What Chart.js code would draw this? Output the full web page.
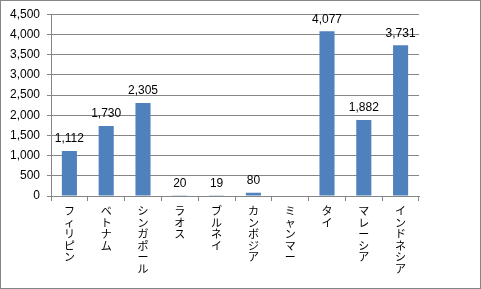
<!DOCTYPE html>
<html><head><meta charset="utf-8">
<script src="https://cdn.jsdelivr.net/npm/chart.js@4/dist/chart.umd.min.js"></script>
<style>html,body{margin:0;padding:0;background:#fff}#w{width:481px;height:289px;position:relative}</style>
</head><body><div id="w"><canvas id="c" width="481" height="289"></canvas></div>
<script>
const categories = ["フィリピン","ベトナム","シンガポール","ラオス","ブルネイ","カンボジア","ミャンマー","タイ","マレーシア","インドネシア"];
const values = [1112, 1730, 2305, 20, 19, 80, null, 4077, 1882, 3731];
const yTicks = [0, 500, 1000, 1500, 2000, 2500, 3000, 3500, 4000, 4500];

const numFont = {family: "'Liberation Sans', Arial, sans-serif", size: 12};
const fmt = v => v.toLocaleString('en-US');

const frame = {
  id: 'frame',
  beforeDraw(c) { const x = c.ctx; x.save(); x.fillStyle = '#fff'; x.fillRect(0,0,c.width,c.height); x.restore(); },
  afterDraw(c) { const x = c.ctx; x.save(); x.strokeStyle = '#868686'; x.lineWidth = 1; x.strokeRect(0.5,0.5,c.width-1,c.height-1); x.restore(); }
};
const dataLabels = {
  id: 'dataLabels',
  afterDatasetsDraw(c) {
    const x = c.ctx; const meta = c.getDatasetMeta(0);
    x.save(); x.fillStyle = '#000'; x.font = numFont.size + 'px ' + numFont.family;
    x.textAlign = 'center'; x.textBaseline = 'bottom';
    meta.data.forEach((bar, i) => {
      const v = c.data.datasets[0].data[i];
      if (v === null || v === undefined) return;
      x.fillText(fmt(v), bar.x, bar.y - 6);
    });
    x.restore();
  }
};

new Chart(document.getElementById('c'), {
  type: 'bar',
  data: {
    labels: categories.map(s => s.split('')),
    datasets: [{ data: values, backgroundColor: '#4F81BD', borderWidth: 0, barPercentage: 0.41, categoryPercentage: 1 }]
  },
  options: {
    responsive: false, animation: false, devicePixelRatio: 1,
    layout: { padding: { top: 14, right: 62, left: 0, bottom: 0 } },
    plugins: { legend: { display: false }, tooltip: { enabled: false } },
    scales: {
      x: {
        grid: { display: true, drawOnChartArea: false, offset: true, color: '#868686', tickLength: 5 },
        border: { color: '#868686' },
        ticks: { maxRotation: 0, minRotation: 0, autoSkip: false, color: '#000', padding: 4,
                 font: { family: "'Noto Sans CJK JP', sans-serif", size: 11, lineHeight: 1.05 } },
        afterFit(s) { s.height = 93; }
      },
      y: {
        min: 0, max: 4500,
        afterBuildTicks(s) { s.ticks = yTicks.map(v => ({ value: v })); },
        grid: { color: '#868686', tickLength: 4 },
        border: { color: '#868686' },
        ticks: { color: '#000', padding: 7, font: numFont, callback: v => fmt(v) },
        afterFit(s) { s.width = 51; }
      }
    }
  },
  plugins: [frame, dataLabels]
});
</script></body></html>
